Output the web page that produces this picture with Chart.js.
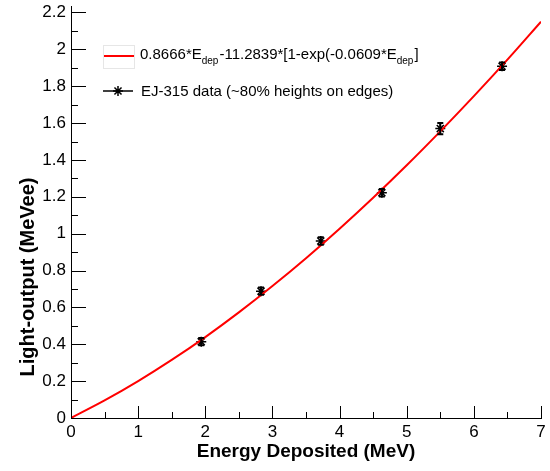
<!DOCTYPE html>
<html><head><meta charset="utf-8">
<script src="https://cdn.jsdelivr.net/npm/chart.js@4/dist/chart.umd.min.js"></script>
<style>html,body{margin:0;padding:0;background:#fff}#wrap{width:550px;height:471px;position:relative}</style>
</head><body><div id="wrap"><canvas id="c" width="550" height="471"></canvas></div>
<script>
// Measured data points (EJ-315)
const energy = [1.94, 2.83, 3.72, 4.63, 5.50, 6.42];
const lightOutput = [0.414, 0.688, 0.960, 1.222, 1.570, 1.908];
const lightError = [0.02, 0.02, 0.02, 0.02, 0.03, 0.02];
// Fit curve
const fitEnergy = [0, 0.5, 1, 1.5, 2, 2.5, 3, 3.5, 4, 4.5, 5, 5.5, 6, 6.5, 7];
const fitLight = [0, 0.095, 0.200, 0.315, 0.439, 0.573, 0.716, 0.867, 1.027, 1.195, 1.371, 1.555, 1.746, 1.944, 2.150];
// Ticks
const xTicks = [0, 1, 2, 3, 4, 5, 6, 7];
const yTicks = [0, 0.2, 0.4, 0.6, 0.8, 1, 1.2, 1.4, 1.6, 1.8, 2, 2.2];
const xMinor = [0.5, 1.5, 2.5, 3.5, 4.5, 5.5, 6.5];
const yMinor = [0.1, 0.3, 0.5, 0.7, 0.9, 1.1, 1.3, 1.5, 1.7, 1.9, 2.1];
// Labels
const fitLabelParts = [["0.8666*E", false], ["dep", true], ["-11.2839*[1-exp(-0.0609*E", false], ["dep", true], ["]", false]];
const dataLabel = "EJ-315 data (~80% heights on edges)";
const xTitle = "Energy Deposited (MeV)";
const yTitle = "Light-output (MeVee)";

const FONT = '"Liberation Sans", Arial, Helvetica, sans-serif';
Chart.defaults.font.family = FONT;
Chart.defaults.color = '#000';

const rootDeco = {
  id: 'rootDeco',
  afterDatasetsDraw(chart) {
    const {ctx, scales: {x, y}, chartArea: a} = chart;
    ctx.save();
    // error bars
    ctx.strokeStyle = '#000';
    ctx.lineWidth = 2;
    energy.forEach((e, i) => {
      const px = x.getPixelForValue(e);
      const p1 = y.getPixelForValue(lightOutput[i] - lightError[i]);
      const p2 = y.getPixelForValue(lightOutput[i] + lightError[i]);
      ctx.beginPath();
      ctx.moveTo(px, p1); ctx.lineTo(px, p2);
      ctx.moveTo(px - 3, p1); ctx.lineTo(px + 3, p1);
      ctx.moveTo(px - 3, p2); ctx.lineTo(px + 3, p2);
      ctx.stroke();
    });
    // inward ticks
    ctx.lineWidth = 1;
    ctx.beginPath();
    xTicks.forEach(v => { const p = Math.round(x.getPixelForValue(v)) + 0.5; ctx.moveTo(p, a.bottom); ctx.lineTo(p, a.bottom - 12); });
    xMinor.forEach(v => { const p = Math.round(x.getPixelForValue(v)) + 0.5; ctx.moveTo(p, a.bottom); ctx.lineTo(p, a.bottom - 6); });
    yTicks.forEach(v => { const p = Math.round(y.getPixelForValue(v)) + 0.5; ctx.moveTo(a.left, p); ctx.lineTo(a.left + 15, p); });
    yMinor.forEach(v => { const p = Math.round(y.getPixelForValue(v)) + 0.5; ctx.moveTo(a.left, p); ctx.lineTo(a.left + 7, p); });
    ctx.stroke();
    ctx.restore();
  },
  afterDraw(chart) {
    const {ctx} = chart;
    ctx.save();
    // y-axis title
    ctx.save();
    ctx.translate(28, 277);
    ctx.rotate(-Math.PI / 2);
    ctx.font = 'bold 20px ' + FONT;
    ctx.fillStyle = '#000';
    ctx.textAlign = 'center';
    ctx.textBaseline = 'middle';
    ctx.fillText(yTitle, 0, 0);
    ctx.restore();
    // legend entry 1
    ctx.strokeStyle = '#e6e6e6'; ctx.lineWidth = 1;
    ctx.strokeRect(103.5, 45.5, 31, 23);
    ctx.strokeStyle = '#ff0000'; ctx.lineWidth = 2;
    ctx.beginPath(); ctx.moveTo(104, 56); ctx.lineTo(134, 56); ctx.stroke();
    ctx.fillStyle = '#000';
    ctx.textBaseline = 'alphabetic'; ctx.textAlign = 'left';
    let tx = 140;
    fitLabelParts.forEach(([t, sub]) => {
      ctx.font = (sub ? '10px ' : '15px ') + FONT;
      ctx.fillText(t, tx, sub ? 63.5 : 58.5);
      tx += ctx.measureText(t).width + (sub ? 1 : 0);
    });
    // legend entry 2
    ctx.strokeStyle = '#000'; ctx.lineWidth = 1.5;
    ctx.beginPath(); ctx.moveTo(103, 91); ctx.lineTo(133, 91); ctx.stroke();
    Chart.helpers.drawPoint(ctx, {pointStyle: 'star', radius: 5, borderWidth: 1.5}, 118, 91);
    ctx.font = '15px ' + FONT;
    ctx.fillText(dataLabel, 141, 95.5);
    ctx.restore();
  }
};

new Chart(document.getElementById('c'), {
  type: 'scatter',
  data: {
    datasets: [
      {
        label: 'fit',
        type: 'line',
        data: fitEnergy.map((e, i) => ({x: e, y: fitLight[i]})),
        borderColor: '#ff0000',
        borderWidth: 2,
        pointRadius: 0,
        cubicInterpolationMode: 'monotone',
        fill: false,
        order: 0
      },
      {
        label: 'data',
        data: energy.map((e, i) => ({x: e, y: lightOutput[i]})),
        pointStyle: 'star',
        pointRadius: 5,
        borderColor: '#000',
        backgroundColor: '#000',
        borderWidth: 1.5,
        order: 1
      }
    ]
  },
  options: {
    responsive: false,
    animation: false,
    devicePixelRatio: 1,
    layout: {padding: {top: 4, right: 9, bottom: 0, left: 0}},
    plugins: {legend: {display: false}, tooltip: {enabled: false}},
    scales: {
      x: {
        type: 'linear', min: 0, max: 7,
        afterBuildTicks: s => { s.ticks = xTicks.map(v => ({value: v})); },
        afterFit: s => { s.height = 53; s.paddingLeft = 0; s.paddingRight = 0; },
        ticks: {font: {size: 17}, color: '#000', padding: 4, maxRotation: 0, callback: v => String(v)},
        grid: {display: false, drawTicks: false},
        border: {display: true, color: '#000', width: 1},
        title: {display: true, text: xTitle, font: {size: 19, weight: 'bold'}, color: '#000', padding: {top: 0, bottom: 8}}
      },
      y: {
        type: 'linear', min: 0, max: 2.2324,
        afterBuildTicks: s => { s.ticks = yTicks.map(v => ({value: v})); },
        afterFit: s => { s.width = 71; s.paddingTop = 0; s.paddingBottom = 0; },
        ticks: {font: {size: 17}, color: '#000', padding: 5, callback: v => String(+v.toFixed(1))},
        grid: {display: false, drawTicks: false},
        border: {display: true, color: '#000', width: 1},
        title: {display: false}
      }
    }
  },
  plugins: [rootDeco]
});
</script>
</body></html>
